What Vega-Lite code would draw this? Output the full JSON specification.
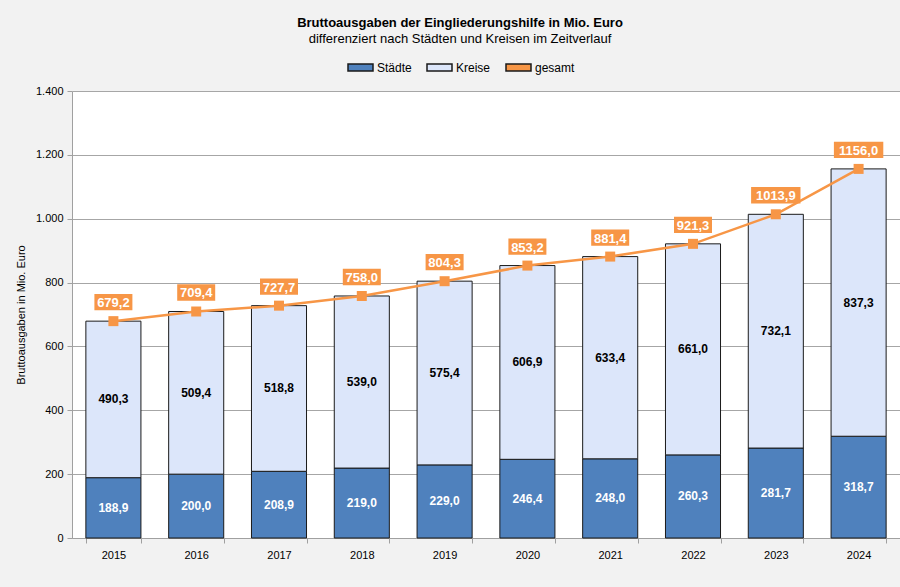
{
  "$schema": "https://vega.github.io/schema/vega-lite/v6.json",
  "width": 828,
  "height": 447,
  "autosize": {"type": "none"},
  "padding": {"left": 72, "top": 91, "right": 0, "bottom": 49},
  "background": "#F2F2F2",
  "title": {
    "text": "Bruttoausgaben der Eingliederungshilfe in Mio. Euro",
    "subtitle": "differenziert nach Städten und Kreisen im Zeitverlauf",
    "anchor": "middle",
    "dx": -26,
    "offset": 8,
    "font": "Liberation Sans",
    "fontSize": 13,
    "fontWeight": "bold",
    "color": "#000000",
    "subtitleFont": "Liberation Sans",
    "subtitleFontSize": 13,
    "subtitleColor": "#000000",
    "subtitlePadding": 3
  },
  "datasets": {
    "teile": [
      {"Jahr": "2015", "Serie": "Städte", "Wert": 188.9},
      {"Jahr": "2015", "Serie": "Kreise", "Wert": 490.3},
      {"Jahr": "2016", "Serie": "Städte", "Wert": 200.0},
      {"Jahr": "2016", "Serie": "Kreise", "Wert": 509.4},
      {"Jahr": "2017", "Serie": "Städte", "Wert": 208.9},
      {"Jahr": "2017", "Serie": "Kreise", "Wert": 518.8},
      {"Jahr": "2018", "Serie": "Städte", "Wert": 219.0},
      {"Jahr": "2018", "Serie": "Kreise", "Wert": 539.0},
      {"Jahr": "2019", "Serie": "Städte", "Wert": 229.0},
      {"Jahr": "2019", "Serie": "Kreise", "Wert": 575.4},
      {"Jahr": "2020", "Serie": "Städte", "Wert": 246.4},
      {"Jahr": "2020", "Serie": "Kreise", "Wert": 606.9},
      {"Jahr": "2021", "Serie": "Städte", "Wert": 248.0},
      {"Jahr": "2021", "Serie": "Kreise", "Wert": 633.4},
      {"Jahr": "2022", "Serie": "Städte", "Wert": 260.3},
      {"Jahr": "2022", "Serie": "Kreise", "Wert": 661.0},
      {"Jahr": "2023", "Serie": "Städte", "Wert": 281.7},
      {"Jahr": "2023", "Serie": "Kreise", "Wert": 732.1},
      {"Jahr": "2024", "Serie": "Städte", "Wert": 318.7},
      {"Jahr": "2024", "Serie": "Kreise", "Wert": 837.3}
    ],
    "gesamt": [
      {"Jahr": "2015", "gesamt": 679.2},
      {"Jahr": "2016", "gesamt": 709.4},
      {"Jahr": "2017", "gesamt": 727.7},
      {"Jahr": "2018", "gesamt": 758.0},
      {"Jahr": "2019", "gesamt": 804.3},
      {"Jahr": "2020", "gesamt": 853.2},
      {"Jahr": "2021", "gesamt": 881.4},
      {"Jahr": "2022", "gesamt": 921.3},
      {"Jahr": "2023", "gesamt": 1013.9},
      {"Jahr": "2024", "gesamt": 1156.0}
    ]
  },
  "layer": [
    {
      "data": {"name": "teile"},
      "transform": [
        {"stack": "Wert", "groupby": ["Jahr"], "sort": [{"field": "Serie", "order": "descending"}], "as": ["y0", "y1"]}
      ],
      "mark": {"type": "bar", "stroke": "#1A1A1A", "strokeWidth": 1},
      "encoding": {
        "x": {"field": "Jahr", "type": "ordinal", "title": null,
              "scale": {"paddingInner": 0.335, "paddingOuter": 0.1675}},
        "y": {"field": "y1", "type": "quantitative", "title": "Bruttoausgaben in Mio. Euro",
              "scale": {"domain": [0, 1400], "nice": false},
              "axis": {"values": [0, 200, 400, 600, 800, 1000, 1200, 1400], "format": ",d"}},
        "y2": {"field": "y0"},
        "color": {
          "field": "Serie", "type": "nominal",
          "scale": {"domain": ["Städte", "Kreise", "gesamt"], "range": ["#4F81BD", "#DCE6FA", "#F79646"]},
          "legend": {
            "title": null,
            "orient": "none",
            "legendX": 275,
            "legendY": -37,
            "direction": "horizontal",
            "symbolSize": 625,
            "symbolType": "M-1,-0.28H1V0.28H-1Z",
            "labelFont": "Liberation Sans",
            "labelFontSize": 12,
            "labelColor": "#000000",
            "labelOffset": 3,
            "columnPadding": 12,
            "symbolOpacity": 1,
            "encode": {
              "symbols": {
                "shape": {"condition": {"test": "datum.label == 'gesamt'", "value": "M-1,-0.07H1V0.07H-1Z M-0.32,-0.32H0.32V0.32H-0.32Z"}, "value": "M-1,-0.28H1V0.28H-1Z"},
                "stroke": {"condition": {"test": "datum.index == 2", "value": "#F79646"}, "value": "#333333"}
              }
            }
          }
        }
      }
    },
    {
      "data": {"name": "teile"},
      "transform": [
        {"stack": "Wert", "groupby": ["Jahr"], "sort": [{"field": "Serie", "order": "descending"}], "as": ["y0", "y1"]},
        {"fold": ["y0", "y1"], "as": ["Ende", "Pos"]}
      ],
      "mark": {"type": "text", "font": "Liberation Sans", "fontSize": 12, "fontWeight": "bold", "baseline": "middle"},
      "encoding": {
        "x": {"field": "Jahr", "type": "ordinal", "title": null},
        "y": {"aggregate": "mean", "field": "Pos", "type": "quantitative", "title": "Bruttoausgaben in Mio. Euro"},
        "detail": {"field": "Serie"},
        "text": {"aggregate": "max", "field": "Wert", "type": "quantitative", "format": ".1f"},
        "color": {"condition": {"test": "datum.Serie === 'Städte'", "value": "#FFFFFF"}, "value": "#000000"}
      }
    },
    {
      "data": {"name": "gesamt"},
      "mark": {"type": "line", "color": "#F79646", "strokeWidth": 2.5},
      "encoding": {
        "x": {"field": "Jahr", "type": "ordinal", "title": null},
        "y": {"field": "gesamt", "type": "quantitative", "title": "Bruttoausgaben in Mio. Euro"}
      }
    },
    {
      "data": {"name": "gesamt"},
      "mark": {"type": "point", "shape": "square", "size": 100, "filled": true, "color": "#F79646", "opacity": 1},
      "encoding": {
        "x": {"field": "Jahr", "type": "ordinal", "title": null},
        "y": {"field": "gesamt", "type": "quantitative", "title": "Bruttoausgaben in Mio. Euro"}
      }
    },
    {
      "data": {"name": "gesamt"},
      "mark": {"type": "point", "size": 1444, "filled": true, "color": "#F79646", "opacity": 1, "yOffset": -19},
      "encoding": {
        "x": {"field": "Jahr", "type": "ordinal", "title": null},
        "y": {"field": "gesamt", "type": "quantitative", "title": "Bruttoausgaben in Mio. Euro"},
        "shape": {"condition": {"test": "datum.gesamt >= 1000", "value": "M-1.3,-0.43H1.3V0.43H-1.3Z"}, "value": "M-1,-0.43H1V0.43H-1Z"}
      }
    },
    {
      "data": {"name": "gesamt"},
      "mark": {"type": "text", "font": "Liberation Sans", "fontSize": 13, "fontWeight": "bold", "color": "#FFFFFF", "baseline": "middle", "yOffset": -18},
      "encoding": {
        "x": {"field": "Jahr", "type": "ordinal", "title": null},
        "y": {"field": "gesamt", "type": "quantitative", "title": "Bruttoausgaben in Mio. Euro"},
        "text": {"field": "gesamt", "type": "quantitative", "format": ".1f"}
      }
    }
  ],
  "config": {
    "locale": {"number": {"decimal": ",", "thousands": ".", "grouping": [3], "currency": ["", " €"]}},
    "view": {"fill": "#FFFFFF", "stroke": null},
    "axisY": {
      "labelFont": "Liberation Sans",
      "labelFontSize": 11,
      "labelColor": "#000000",
      "labelPadding": 4,
      "tickColor": "#A0A0A0",
      "tickSize": 5,
      "domainColor": "#A0A0A0",
      "gridColor": "#A6A6A6",
      "gridWidth": 1,
      "titleFont": "Liberation Sans",
      "titleFontSize": 11,
      "titleFontWeight": "normal",
      "titleColor": "#000000",
      "titlePadding": 9
    },
    "axisX": {
      "labelAngle": 0,
      "labelFont": "Liberation Sans",
      "labelFontSize": 11,
      "labelColor": "#000000",
      "labelPadding": 6,
      "tickBand": "extent",
      "tickColor": "#A0A0A0",
      "tickSize": 5,
      "domainColor": "#A0A0A0",
      "grid": false
    }
  }
}
